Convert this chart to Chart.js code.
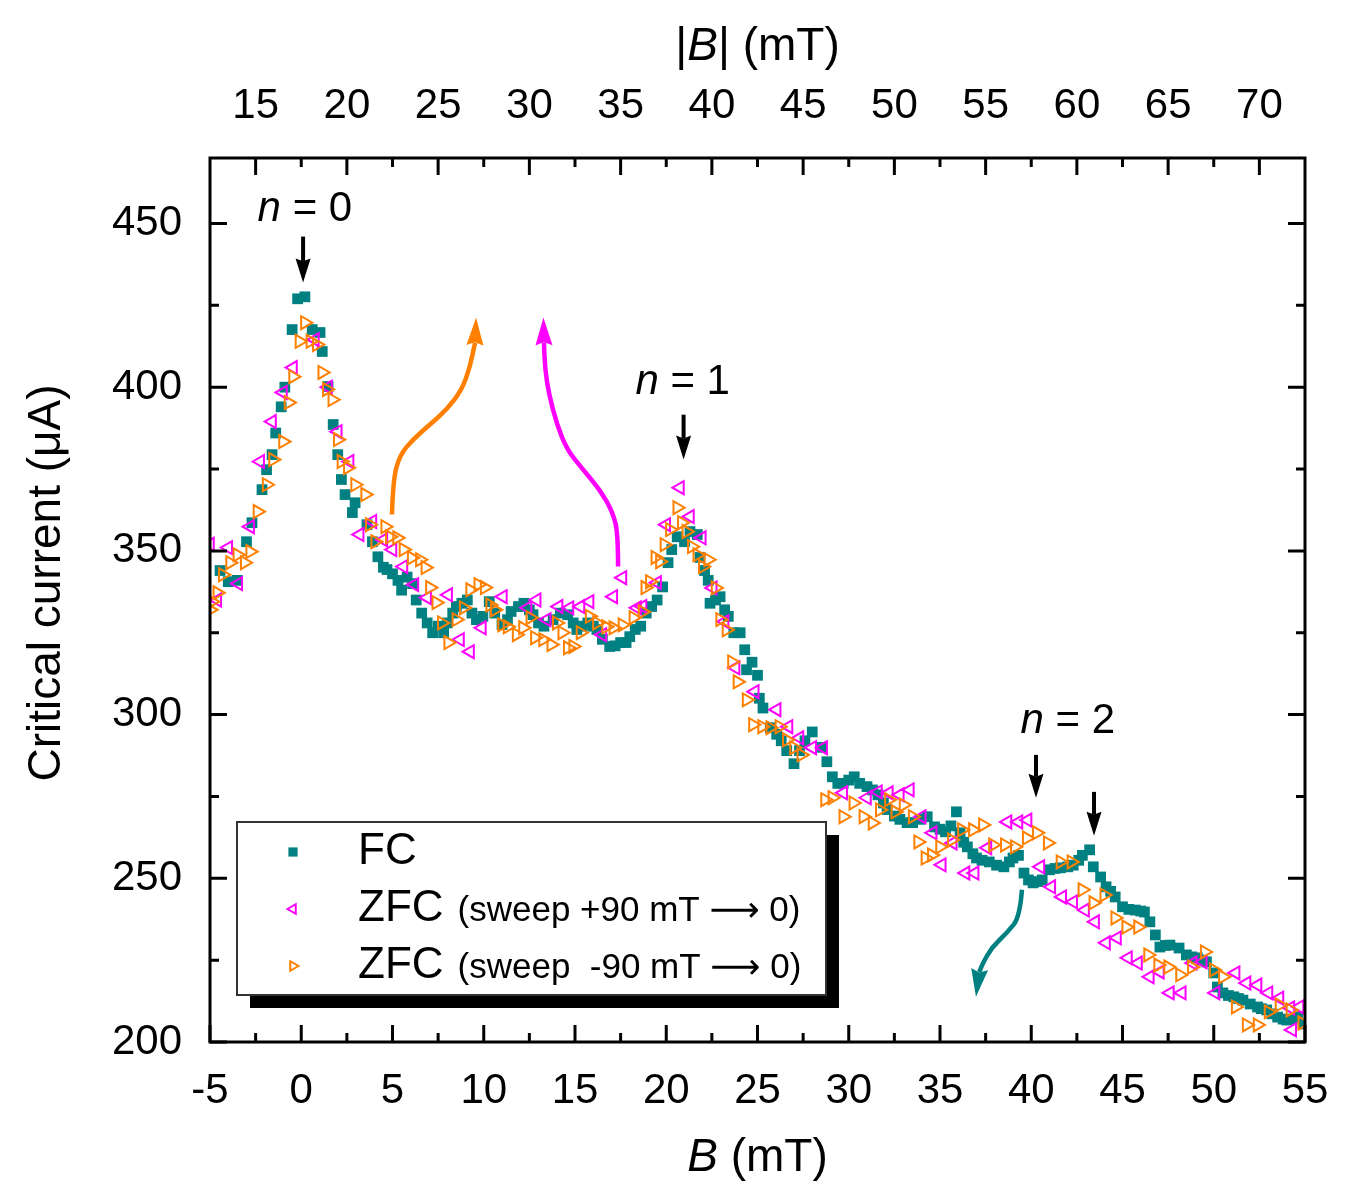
<!DOCTYPE html>
<html>
<head>
<meta charset="utf-8">
<script src="https://cdn.jsdelivr.net/npm/chart.js@4.4.1/dist/chart.umd.min.js"></script>
<style>
html,body{margin:0;padding:0;background:#fff;}
#wrap{width:1348px;height:1200px;}
</style>
</head>
<body>
<div id="wrap"><canvas id="c" width="1348" height="1200"></canvas></div>
<script>
// ---------------- data ----------------
const fcB = [-4.45,-4.0,-3.5,-3.0,-2.7,-2.15,-1.9,-1.6,-1.4,-1.1,-0.9,-0.5,-0.2,0.2,0.6,1.03,1.15,1.47,1.75,2.0,2.2,2.4,2.8,2.95,3.6,3.9,4.2,4.5,4.7,5.0,5.3,5.5,5.8,6.1,6.3,6.6,6.9,7.2,7.5,7.8,8.0,8.3,8.5,8.8,9.1,9.35,9.6,9.95,10.3,10.6,11.0,11.3,11.5,11.9,12.2,12.5,12.7,13.0,13.3,13.8,14.2,14.6,14.9,15.1,15.4,15.7,16.0,16.2,16.5,16.9,17.2,17.5,17.8,18.0,18.3,18.6,18.9,19.2,19.5,19.8,20.1,20.3,20.6,21.0,21.3,21.7,21.85,22.1,22.3,22.4,22.7,22.95,23.2,23.4,23.7,24.05,24.3,24.4,24.7,25.0,25.1,25.3,25.7,26.05,26.3,26.6,27.0,27.3,27.6,28.0,28.5,28.8,29.1,29.4,29.7,30.0,30.3,30.6,31.0,31.3,31.6,31.9,32.1,32.5,32.8,33.2,33.5,33.9,34.3,34.7,35.0,35.3,35.6,35.9,36.1,36.3,36.5,36.8,37.0,37.3,37.7,38.1,38.5,38.8,39.0,39.3,39.6,39.85,40.1,40.35,40.6,41.0,41.3,41.6,42.0,42.3,42.6,42.8,43.2,43.4,43.8,44.1,44.35,44.6,45.0,45.35,45.7,46.0,46.2,46.5,46.8,47.05,47.35,47.6,48.1,48.5,48.8,49.1,49.35,49.6,50.0,50.2,50.5,50.8,51.1,51.35,51.6,52.0,52.4,52.6,52.9,53.2,53.5,53.8,54.0,54.3,54.6,54.9];
const fcI = [344,340.6,341,352.8,358.6,368.7,374.8,379.4,386,394,400,417.6,427,427.6,417.6,416.7,410.9,400.2,388.6,379.4,371.8,367.2,361.7,364.7,358,352.8,348.2,345,344.3,343,341,338,342,340,335,331,328,325,327,325,328,331,333,334,335,331,329,330,334.5,331,327.5,329,331.5,333,334,332,330.5,328,327,329,331,330.5,328,326,327,328,327,326,323,320.8,321,322,322,323.8,326,327,331,333,335,339,346.4,350.4,354.3,352.8,355.9,355,348,344,341,334,335,336,332,330,325,325,319.8,313.7,316,312,305,302,296,294,292,289,285,289,292,294.7,290,285.6,281,279,279,280,281,279,278,277,275.5,273,271,269,268,267,267,268,268.8,265.7,265,264.2,266,270.3,263.9,261,259.6,257.5,256.2,255.5,255,254,253.5,255,256.2,257,251.6,249.5,248.6,249,249.5,252.6,253,253.2,253.5,254,255.5,257,258.7,253.5,250.4,247.4,246,244.3,241.3,240.5,240.3,240,239.7,236.7,232.7,229,229.5,229.6,228.7,226.6,226,225.7,225,224.5,221.1,216.8,215,214.2,213.8,213.3,212.8,211.6,210.7,210.2,209.8,208.6,207.6,207,206.7,207,207.6,205.5];

const zfcPlusB = [-5.0,-4.6,-4.0,-3.45,-2.8,-2.25,-1.6,-1.0,-0.45,0.75,1.47,2.0,2.65,3.2,3.9,4.5,5.0,5.6,6.2,6.9,8.05,8.7,9.25,9.9,11.05,12.4,12.9,13.45,14.1,14.7,15.3,15.8,16.5,17.1,17.6,18.4,18.7,19.5,20.0,20.75,21.3,21.95,22.55,23.2,23.8,24.85,26.05,26.7,27.3,28.0,28.6,29.7,31.0,31.6,32.2,32.8,33.35,34.0,34.6,35.1,35.7,36.4,36.9,37.6,38.7,39.3,39.8,40.5,41.1,41.7,42.3,42.95,43.5,44.1,44.7,45.3,45.85,46.5,47.05,47.6,48.25,48.85,49.4,50.1,51.2,51.8,52.4,53.0,53.6,54.2,54.3,54.7];
const zfcPlusI = [352,335,351,340,357.4,377.3,389.5,398.4,406,414.5,400,386.4,377.3,355,359,353.4,350.4,345.2,339.7,335.7,336.6,322.9,319.2,326.5,336,332.6,335,329,333,332.6,333,334.5,324.4,336,341.8,332.6,333,340.3,358,369.3,360.5,354,338.7,328.4,314.3,307,301.5,296.3,292.9,289.9,289.9,276.1,274.6,276.4,276.1,275.5,277,268.8,263.9,254.1,260.8,251.6,251.6,259.3,267.2,267.2,267.8,253.5,247.4,244.3,242.8,240.3,236.7,230.3,231.8,225.7,224.1,219.9,221.4,215,215,224.1,224.5,215,221.1,218,217.4,215,213.4,210.4,203.7,210.7];

const zfcMinusB = [-5.0,-4.9,-4.6,-4.3,-3.9,-3.5,-3.1,-2.8,-2.4,-1.9,-1.55,-1.0,-0.7,-0.45,-0.1,0.2,0.5,0.85,1.15,1.4,1.7,2.0,2.2,2.55,2.95,3.5,3.75,4.05,4.6,4.85,5.25,5.6,6.05,6.5,6.8,7.05,7.4,7.7,8.05,8.5,8.9,9.25,9.7,10.05,10.35,10.6,11.0,11.3,11.8,12.15,12.55,12.8,13.25,13.7,14.0,14.3,14.6,14.9,15.3,15.8,16.2,16.7,17.1,17.6,18.2,18.7,18.85,19.1,19.4,19.65,19.9,20.2,20.6,20.85,21.1,21.4,21.7,22.0,22.3,22.7,22.95,23.3,23.6,23.9,24.4,24.75,25.25,25.7,26.2,26.6,27.0,27.4,28.7,29.1,29.7,30.25,30.8,31.3,31.7,32.2,32.55,33.0,33.5,33.8,34.2,34.55,35.0,35.65,36.2,36.8,37.35,37.9,38.55,39.1,39.75,40.3,40.9,41.6,42.2,42.8,43.4,44.0,44.6,45.2,45.85,46.4,46.95,47.5,48.15,48.8,49.5,50.0,50.5,51.2,51.8,52.4,53.0,53.6,54.2,54.85];
const zfcMinusI = [332,334.5,337.2,342.7,346.4,348.8,346.4,349.8,362,370.2,377.9,383.4,395.3,403.2,414,419.7,414,413,404.5,399.3,396.2,384,377.3,375.4,370.2,367.2,358,352.8,357.4,354.3,354,350.4,347.9,347.3,344.9,338.8,334.2,328,322,329,332.6,338.1,339.7,338.8,333.5,332,327.4,326.8,324.4,326.5,329.6,323.5,322.9,321.4,328,325,320.4,320.8,325,330,328,326.8,326.5,327.4,329.6,331.4,338.8,340.6,348,346.7,351.9,356.5,363.2,358.6,355.9,351.3,348.8,345.2,347.3,338.7,329,325.9,316.1,310,304.5,296.9,296.3,296,296.3,292.3,289.9,287.7,274,274.6,268.8,273,268.8,266.9,270.9,274,270.3,272.4,268.8,261.1,256.2,257.1,259.6,261.7,264.8,264.8,266.3,260.2,260.2,259.6,262.3,263.9,260.8,255,255,246.5,242.5,244.9,237.9,235.1,235.1,226.6,223.5,222.9,220.5,222.9,227.5,222,219.9,210.7,205.2,205.2,209.2,211.3,209.8,205.8];

const seriesLabels = ['FC', 'ZFC', 'ZFC'];
const seriesSubLabels = ['', '(sweep +90 mT \u27F6 0)', '(sweep  -90 mT \u27F6 0)'];

const xTicks = [-5,0,5,10,15,20,25,30,35,40,45,50,55];
const topTicks = [15,20,25,30,35,40,45,50,55,60,65,70];
const yTicks = [200,250,300,350,400,450];
const xMin = -5, xMax = 55, yMin = 200, yMax = 470;
const absOffset = 17.5;   // |B| = B + 17.5

// annotation anchors in data coordinates [B, I]
const peakLabels = [
  {text: '0', at: [0.2, 454.3]},
  {text: '1', at: [20.9, 401.4]},
  {text: '2', at: [42.0, 297.8]}
];
const blackArrows = [
  [[0.1, 446.0], [0.1, 432.0]],
  [[20.95, 391.6], [20.95, 377.9]],
  [[40.26, 287.7], [40.26, 274.6]],
  [[43.44, 276.4], [43.44, 263.0]]
];
const curveOrange = [[4.97,361.1],[5.03,371.8],[5.41,379.4],[6.12,384.0],[7.05,388.6],[7.99,393.2],[8.81,399.3],[9.25,406.3],[9.52,413.0],[9.58,421.3]];
const curveMagenta = [[17.36,345.2],[17.36,355.0],[17.08,361.7],[16.37,368.7],[15.44,374.8],[14.56,380.9],[14.01,388.6],[13.58,397.7],[13.36,405.4],[13.30,413.0],[13.27,421.3]];
const curveTeal = [[39.49,246.5],[39.38,238.2],[38.67,233.3],[37.85,229.0],[37.35,224.1],[37.13,220.5],[36.97,213.8]];

// ---------------- styles ----------------
const TEAL = '#008080', MAGENTA = '#ff00ff', ORANGE = '#ff8000';
const FONT = '"Liberation Sans", Arial, Helvetica, "DejaVu Sans", sans-serif';

function pts(bs, is){ return bs.map((b,i)=>({x:b, y:is[i]})); }

function drawArrowPath(ctx, p, color, lw, headLen, headW){
  const tip = p[p.length-1];
  const prev = p[p.length-2];
  let dx = tip[0]-prev[0], dy = tip[1]-prev[1];
  const L = Math.hypot(dx,dy); dx/=L; dy/=L;
  const base = [tip[0]-dx*headLen, tip[1]-dy*headLen];
  const shaft = [];
  for (let i=0;i<p.length-1;i++){
    const q = p[i];
    if (Math.hypot(tip[0]-q[0], tip[1]-q[1]) > headLen + 2) shaft.push(q);
  }
  shaft.push([base[0]+dx*3, base[1]+dy*3]);
  ctx.save();
  ctx.strokeStyle = color; ctx.fillStyle = color; ctx.lineWidth = lw;
  ctx.lineCap = 'butt'; ctx.lineJoin = 'round';
  ctx.beginPath();
  ctx.moveTo(shaft[0][0], shaft[0][1]);
  if (shaft.length > 2){
    for (let i=1;i<shaft.length-1;i++){
      const mx = (shaft[i][0]+shaft[i+1][0])/2, my = (shaft[i][1]+shaft[i+1][1])/2;
      ctx.quadraticCurveTo(shaft[i][0], shaft[i][1], mx, my);
    }
  }
  ctx.lineTo(shaft[shaft.length-1][0], shaft[shaft.length-1][1]);
  ctx.stroke();
  ctx.beginPath();
  ctx.moveTo(tip[0], tip[1]);
  ctx.lineTo(base[0] - dy*headW/2, base[1] + dx*headW/2);
  ctx.lineTo(base[0] + dx*headLen*0.12, base[1] + dy*headLen*0.12);
  ctx.lineTo(base[0] + dy*headW/2, base[1] - dx*headW/2);
  ctx.closePath();
  ctx.fill();
  ctx.restore();
}

function drawMixed(ctx, parts, cx, cy){
  let total = 0;
  parts.forEach(pt=>{ ctx.font = pt.font; pt.w = ctx.measureText(pt.t).width; total += pt.w; });
  let x = cx - total/2;
  ctx.textAlign = 'left'; ctx.textBaseline = 'middle';
  parts.forEach(pt=>{ ctx.font = pt.font; ctx.fillText(pt.t, x, cy); x += pt.w; });
}

const decorPlugin = {
  id: 'decor',
  afterDraw(chart){
    const ctx = chart.ctx;
    const a = chart.chartArea;
    const xs = chart.scales.x, ys = chart.scales.y, xt = chart.scales.x2;
    const P = d => [xs.getPixelForValue(d[0]), ys.getPixelForValue(d[1])];
    ctx.save();
    ctx.strokeStyle = '#000'; ctx.fillStyle = '#000';

    // tick marks (inward)
    const MAJ = 17, MIN = 9;
    ctx.lineWidth = 3;
    ctx.beginPath();
    xTicks.forEach((v,i)=>{
      const x = xs.getPixelForValue(v);
      ctx.moveTo(x, a.bottom); ctx.lineTo(x, a.bottom - MAJ);
      if (i < xTicks.length-1){
        const xm = xs.getPixelForValue((v + xTicks[i+1])/2);
        ctx.moveTo(xm, a.bottom); ctx.lineTo(xm, a.bottom - MIN);
      }
    });
    topTicks.forEach((v,i)=>{
      const x = xt.getPixelForValue(v);
      ctx.moveTo(x, a.top); ctx.lineTo(x, a.top + MAJ);
      if (i < topTicks.length-1){
        const xm = xt.getPixelForValue((v + topTicks[i+1])/2);
        ctx.moveTo(xm, a.top); ctx.lineTo(xm, a.top + MIN);
      }
    });
    yTicks.forEach((v,i)=>{
      const y = ys.getPixelForValue(v);
      ctx.moveTo(a.left, y); ctx.lineTo(a.left + MAJ, y);
      ctx.moveTo(a.right, y); ctx.lineTo(a.right - MAJ, y);
      if (i < yTicks.length-1){
        const ym = ys.getPixelForValue((v + yTicks[i+1])/2);
        ctx.moveTo(a.left, ym); ctx.lineTo(a.left + MIN, ym);
        ctx.moveTo(a.right, ym); ctx.lineTo(a.right - MIN, ym);
      }
    });
    ctx.stroke();

    // frame
    ctx.lineWidth = 3;
    ctx.strokeRect(a.left, a.top, a.right - a.left, a.bottom - a.top);

    // axis titles
    ctx.fillStyle = '#000';
    const cxMid = (a.left + a.right)/2;
    drawMixed(ctx, [{t:'B', font:'italic 46px '+FONT},{t:' (mT)', font:'46px '+FONT}], cxMid, a.bottom + 116);
    drawMixed(ctx, [{t:'|', font:'46px '+FONT},{t:'B', font:'italic 46px '+FONT},{t:'| (mT)', font:'46px '+FONT}], cxMid, a.top - 111);
    ctx.save();
    ctx.translate(a.left - 163, (a.top + a.bottom)/2 - 17);
    ctx.rotate(-Math.PI/2);
    drawMixed(ctx, [{t:'Critical current (\u03bcA)', font:'46px '+FONT}], 0, 0);
    ctx.restore();

    // peak labels
    peakLabels.forEach(l=>{
      const p = P(l.at);
      drawMixed(ctx, [{t:'n', font:'italic 42px '+FONT},{t:' = ' + l.text, font:'42px '+FONT}], p[0], p[1]);
    });
    // black arrows
    blackArrows.forEach(ar=>{
      drawArrowPath(ctx, ar.map(P), '#000', 4, 24, 15);
    });
    // coloured curved arrows
    drawArrowPath(ctx, curveOrange.map(P), ORANGE, 4.5, 28, 17);
    drawArrowPath(ctx, curveMagenta.map(P), MAGENTA, 4.5, 28, 17);
    drawArrowPath(ctx, curveTeal.map(P), TEAL, 4.5, 28, 17);

    // legend
    const lx = 237, ly = 822, lw = 589, lh = 173;
    ctx.fillStyle = '#000';
    ctx.fillRect(lx + 13, ly + 13, lw, lh);
    ctx.fillStyle = '#fff';
    ctx.fillRect(lx, ly, lw, lh);
    ctx.strokeStyle = '#333'; ctx.lineWidth = 2;
    ctx.strokeRect(lx, ly, lw, lh);
    const rowY = [ly + 30, ly + 87, ly + 144];
    chart.data.datasets.forEach((ds, i)=>{
      const y = rowY[i];
      const mx = lx + 56;
      ctx.save();
      ctx.strokeStyle = ds.borderColor; ctx.fillStyle = ds.backgroundColor;
      ctx.lineWidth = 2;
      Chart.helpers.drawPoint(ctx, {pointStyle: ds.pointStyle, rotation: ds.rotation || 0, radius: i===0 ? 6.5 : 5.5, borderWidth: i===0?0:2}, mx, y);
      ctx.restore();
      ctx.fillStyle = '#000';
      ctx.textAlign = 'left'; ctx.textBaseline = 'middle';
      ctx.font = '44px ' + FONT;
      ctx.fillText(seriesLabels[i], lx + 121, y);
      const w = ctx.measureText(seriesLabels[i]).width;
      if (seriesSubLabels[i]){
        ctx.font = '35px ' + FONT;
        ctx.fillText(seriesSubLabels[i], lx + 121 + w + 14, y + 2);
      }
    });
    ctx.restore();
  }
};

const tickFont = {family: FONT, size: 42};

new Chart(document.getElementById('c'), {
  type: 'scatter',
  data: {
    datasets: [
      {label: seriesLabels[0], data: pts(fcB, fcI), pointStyle: 'rect', pointRadius: 7.6, pointHoverRadius: 7.6,
       backgroundColor: TEAL, borderColor: TEAL, borderWidth: 0, order: 3},
      {label: seriesLabels[1] + ' ' + seriesSubLabels[1], data: pts(zfcPlusB, zfcPlusI), pointStyle: 'triangle', rotation: -90,
       pointRadius: 7.5, pointHoverRadius: 7.5, backgroundColor: 'rgba(255,255,255,0)', borderColor: MAGENTA, borderWidth: 2, order: 2},
      {label: seriesLabels[2] + ' ' + seriesSubLabels[2], data: pts(zfcMinusB, zfcMinusI), pointStyle: 'triangle', rotation: 90,
       pointRadius: 7.5, pointHoverRadius: 7.5, backgroundColor: 'rgba(255,255,255,0)', borderColor: ORANGE, borderWidth: 2, order: 1}
    ]
  },
  options: {
    responsive: false,
    animation: false,
    devicePixelRatio: 1,
    layout: {padding: {left: 0, right: 43, top: 0, bottom: 0}},
    plugins: {legend: {display: false}, tooltip: {enabled: false}, title: {display: false}},
    scales: {
      x: {
        type: 'linear', position: 'bottom', min: xMin, max: xMax,
        afterBuildTicks: s => { s.ticks = xTicks.map(v=>({value: v})); },
        afterFit: s => { s.height = 158; },
        grid: {display: false}, border: {display: false},
        ticks: {font: tickFont, color: '#000', padding: 16, maxRotation: 0, autoSkip: false, callback: v => String(v)}
      },
      x2: {
        type: 'linear', axis: 'x', position: 'top', min: xMin + absOffset, max: xMax + absOffset,
        afterBuildTicks: s => { s.ticks = topTicks.map(v=>({value: v})); },
        afterFit: s => { s.height = 158; },
        grid: {display: false}, border: {display: false},
        ticks: {font: tickFont, color: '#000', padding: 18, maxRotation: 0, autoSkip: false, callback: v => String(v)}
      },
      y: {
        type: 'linear', position: 'left', min: yMin, max: yMax,
        afterBuildTicks: s => { s.ticks = yTicks.map(v=>({value: v})); },
        afterFit: s => { s.width = 210; },
        grid: {display: false}, border: {display: false},
        ticks: {font: tickFont, color: '#000', padding: 20, autoSkip: false, callback: v => String(v)}
      }
    }
  },
  plugins: [decorPlugin]
});
</script>
</body>
</html>
